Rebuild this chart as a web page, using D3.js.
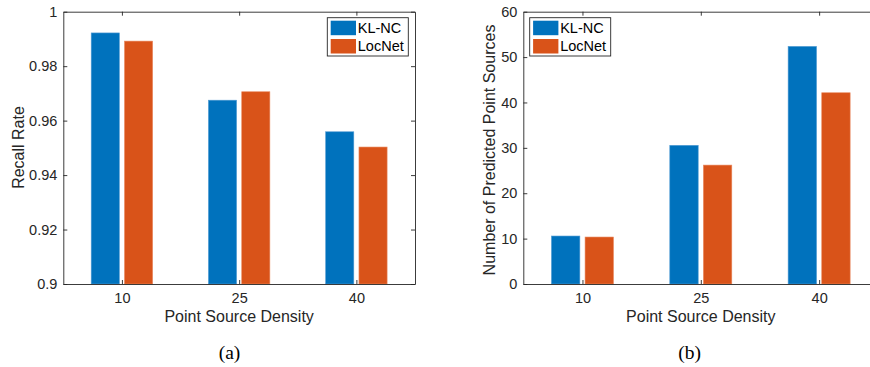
<!DOCTYPE html>
<html>
<head>
<meta charset="utf-8">
<script src="https://cdn.jsdelivr.net/npm/d3@7"></script>
<style>
  body { margin: 0; background: #fff; }
  svg { display: block; }
</style>
</head>
<body>
<svg id="chart" width="870" height="367"></svg>
<script>
// data
const densities = ["10", "25", "40"];
const seriesNames = ["KL-NC", "LocNet"];
const recallKLNC = [0.9922, 0.9675, 0.9559];
const recallLocNet = [0.9892, 0.9706, 0.9503];
const countKLNC = [10.57, 30.55, 52.35];
const countLocNet = [10.35, 26.2, 42.14];
const recallTicks = [0.9, 0.92, 0.94, 0.96, 0.98, 1];
const countTicks = [0, 10, 20, 30, 40, 50, 60];

const colors = ["#0072BD", "#D95319"];
const axisColor = "#262626";
const svg = d3.select("#chart");

function drawPanel(opt) {
  const g = svg.append("g");
  const x = d3.scaleLinear().domain([0.5, 3.5]).range([opt.left, opt.right]);
  const y = d3.scaleLinear().domain(opt.yDomain).range([opt.bottom, opt.top]);
  const fmtX = i => densities[i - 1];

  // bars
  const series = [opt.a, opt.b];
  const barW = 0.24, offset = 0.142;
  series.forEach((vals, s) => {
    g.append("g").selectAll("rect")
      .data(vals)
      .enter()
      .append("rect")
      .attr("x", (d, i) => x(i + 1 + (s === 0 ? -offset : offset) - barW / 2))
      .attr("width", x(1 + barW) - x(1))
      .attr("y", d => y(d))
      .attr("height", d => y(opt.yDomain[0]) - y(d))
      .attr("fill", colors[s])
      .attr("stroke", s === 0 ? "#4f9ad3" : "#e9895f")
      .attr("stroke-width", 0.6);
  });

  // axes
  const styleAxis = sel => {
    sel.select(".domain").attr("stroke", axisColor).attr("stroke-width", 0.9);
    sel.selectAll(".tick line").attr("stroke", axisColor).attr("stroke-width", 0.9);
    sel.selectAll("text").attr("fill", axisColor)
      .style("font-family", "'Liberation Sans', Arial, sans-serif")
      .style("font-size", "14.5px");
  };

  g.append("g")
    .attr("transform", "translate(0," + opt.bottom + ")")
    .call(d3.axisBottom(x).tickValues([1, 2, 3]).tickFormat(fmtX)
      .tickSizeInner(-4).tickSizeOuter(0).tickPadding(9))
    .call(styleAxis);
  g.append("g")
    .attr("transform", "translate(0," + opt.top + ")")
    .call(d3.axisTop(x).tickValues([1, 2, 3]).tickFormat("")
      .tickSizeInner(-4).tickSizeOuter(0))
    .call(styleAxis);
  g.append("g")
    .attr("transform", "translate(" + opt.left + ",0)")
    .call(d3.axisLeft(y).tickValues(opt.yTicks).tickFormat(opt.yFormat)
      .tickSizeInner(-4).tickSizeOuter(0).tickPadding(6))
    .call(styleAxis);
  g.append("g")
    .attr("transform", "translate(" + opt.right + ",0)")
    .call(d3.axisRight(y).tickValues(opt.yTicks).tickFormat("")
      .tickSizeInner(-4).tickSizeOuter(0))
    .call(styleAxis);

  // axis labels
  g.append("text")
    .attr("x", x(2))
    .attr("y", 322)
    .attr("text-anchor", "middle")
    .attr("fill", axisColor)
    .style("font-family", "'Liberation Sans', Arial, sans-serif")
    .style("font-size", "16px")
    .text("Point Source Density");
  g.append("text")
    .attr("transform", "translate(" + opt.yLabelX + "," + opt.yLabelY + ") rotate(-90)")
    .attr("text-anchor", "middle")
    .attr("fill", axisColor)
    .style("font-family", "'Liberation Sans', Arial, sans-serif")
    .style("font-size", "16px")
    .text(opt.yLabel);

  // legend
  const lg = g.append("g").attr("transform", "translate(" + opt.legendX + ",17.7)");
  lg.append("rect")
    .attr("width", 81).attr("height", 38.3)
    .attr("fill", "#fff").attr("stroke", axisColor).attr("stroke-width", 0.9);
  seriesNames.forEach((name, i) => {
    lg.append("rect")
      .attr("x", 3.4).attr("y", 3 + i * 18.3)
      .attr("width", 25.3).attr("height", 14.5)
      .attr("fill", colors[i]);
    lg.append("text")
      .attr("x", 30.5).attr("y", 15.5 + i * 18.3)
      .attr("fill", "#000")
      .style("font-family", "'Liberation Sans', Arial, sans-serif")
      .style("font-size", "14.5px")
      .text(name);
  });

  // caption
  svg.append("text")
    .attr("x", opt.captionX)
    .attr("y", 359)
    .attr("text-anchor", "middle")
    .attr("fill", "#000")
    .style("font-family", "'Liberation Serif', 'Times New Roman', serif")
    .style("font-size", "19.5px")
    .text(opt.caption);
}

drawPanel({
  left: 63.3, right: 415, top: 11.7, bottom: 284,
  yDomain: [0.9, 1], yTicks: recallTicks,
  yFormat: d => (d === 1 ? "1" : d === 0.9 ? "0.9" : d3.format(".2f")(d)),
  a: recallKLNC, b: recallLocNet,
  yLabel: "Recall Rate", yLabelX: 23.5, yLabelY: 147.5,
  legendX: 327.3, caption: "(a)", captionX: 229.5
});

drawPanel({
  left: 523.3, right: 878.3, top: 11.7, bottom: 284,
  yDomain: [0, 60], yTicks: countTicks,
  yFormat: d3.format("d"),
  a: countKLNC, b: countLocNet,
  yLabel: "Number of Predicted Point Sources", yLabelX: 495, yLabelY: 150,
  legendX: 529.7, caption: "(b)", captionX: 689.7
});
</script>
</body>
</html>
